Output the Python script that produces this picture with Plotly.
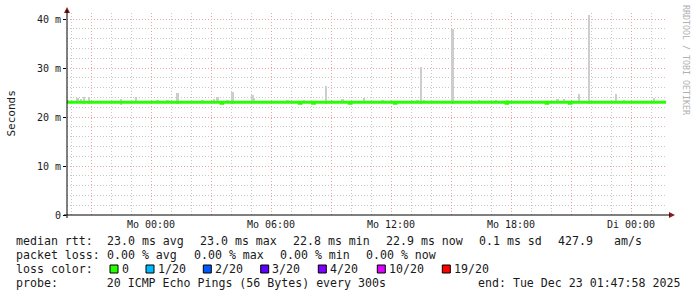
import plotly.graph_objects as go

# ---------------- data ----------------
t_start = "2025-12-21 19:47:58"
t_end = "2025-12-23 01:47:58"

# smoke (ping spread) per 5-minute step where visible, in ms
smoke_time = [
    "2025-12-21 19:50", "2025-12-21 20:20", "2025-12-21 20:30", "2025-12-21 20:40",
    "2025-12-21 20:55", "2025-12-21 22:30", "2025-12-21 23:15", "2025-12-22 00:20",
    "2025-12-22 00:50", "2025-12-22 01:20", "2025-12-22 02:35", "2025-12-22 03:10",
    "2025-12-22 03:20", "2025-12-22 03:50", "2025-12-22 04:05", "2025-12-22 05:05",
    "2025-12-22 05:10", "2025-12-22 06:50", "2025-12-22 07:40", "2025-12-22 08:45",
    "2025-12-22 09:15", "2025-12-22 09:35", "2025-12-22 10:40", "2025-12-22 11:35",
    "2025-12-22 12:00", "2025-12-22 13:20", "2025-12-22 13:30", "2025-12-22 13:40",
    "2025-12-22 15:05", "2025-12-22 16:25", "2025-12-22 17:15", "2025-12-22 17:50",
    "2025-12-22 20:20", "2025-12-22 20:40", "2025-12-22 21:25", "2025-12-22 21:55",
    "2025-12-22 23:15", "2025-12-22 23:40", "2025-12-23 01:10",
]
smoke_high = [
    23.4, 23.8, 23.6, 24.1,
    24.1, 23.6, 24.1, 23.4,
    23.4, 24.8, 23.4, 23.6,
    24.0, 23.4, 25.2, 24.4,
    23.9, 23.4, 23.4, 26.4,
    23.3, 23.6, 23.8, 23.4,
    23.4, 23.4, 30.3, 23.4,
    37.9, 23.4, 23.4, 23.4,
    23.6, 23.6, 24.6, 40.9,
    24.7, 23.4, 23.8,
]
smoke_low = [
    22.8, 22.8, 22.8, 22.7,
    22.7, 22.5, 22.8, 22.8,
    22.8, 22.7, 22.8, 22.8,
    22.8, 22.8, 22.7, 22.8,
    22.8, 22.8, 22.8, 22.7,
    22.8, 22.8, 22.8, 22.8,
    22.8, 22.8, 22.7, 22.8,
    22.7, 22.8, 22.8, 22.8,
    22.8, 22.8, 22.8, 22.7,
    22.8, 22.8, 22.8,
]

# median rtt (step line), ms
median_time = [
    "2025-12-21 19:47:58",
    "2025-12-22 03:30", "2025-12-22 03:35",
    "2025-12-22 07:25", "2025-12-22 07:30",
    "2025-12-22 08:05", "2025-12-22 08:10",
    "2025-12-22 09:55", "2025-12-22 10:00",
    "2025-12-22 12:10", "2025-12-22 12:15",
    "2025-12-22 17:45", "2025-12-22 17:50",
    "2025-12-22 19:45", "2025-12-22 19:50",
    "2025-12-22 20:55", "2025-12-22 21:00",
    "2025-12-23 01:45",
]
median_value = [
    23.0,
    22.8, 23.0,
    22.8, 23.0,
    22.8, 23.0,
    22.8, 23.0,
    22.8, 23.0,
    22.8, 23.0,
    22.8, 23.0,
    22.8, 23.0,
    23.0,
]

# axes
y_tickvals = [0, 10, 20, 30, 40]
y_ticktext = ["0", "10 m", "20 m", "30 m", "40 m"]
x_tickvals = [
    "2025-12-21 21:00", "2025-12-22 00:00", "2025-12-22 03:00", "2025-12-22 06:00",
    "2025-12-22 09:00", "2025-12-22 12:00", "2025-12-22 15:00", "2025-12-22 18:00",
    "2025-12-22 21:00", "2025-12-23 00:00",
]
x_ticktext = ["", "Mo 00:00", "", "Mo 06:00", "", "Mo 12:00", "", "Mo 18:00", "", "Di 00:00"]

# legend texts
rtt_items = ["median rtt:", "23.0 ms avg", "23.0 ms max", "22.8 ms min",
             "22.9 ms now", "0.1 ms sd", "427.9", "am/s"]
loss_items = ["packet loss:", "0.00 % avg", "0.00 % max", "0.00 % min", "0.00 % now"]
loss_labels = ["0", "1/20", "2/20", "3/20", "4/20", "10/20", "19/20"]
loss_colors = ["#26ff00", "#00b8ff", "#0059ff", "#5e00ff", "#7e00ff", "#dd00ff", "#ff0000"]
probe_text = "probe:       20 ICMP Echo Pings (56 Bytes) every 300s"
end_text = "end: Tue Dec 23 01:47:58 2025"

# ---------------- layout geometry (pixels) ----------------
FIG_W, FIG_H = 697, 297
L, R, T, B = 67, 30, 13, 82
PW = FIG_W - L - R
PH = FIG_H - T - B
Y_TOP = 40 * PH / 196.0


def px(x):
    return (x - L) / PW


def py(y):
    return (FIG_H - B - y) / PH


rtt_x = [16, 107.3, 200.3, 293.3, 386, 479.3, 558.3, 614]
loss_x = [16, 107.3, 193.6, 279.9, 366.2]
sq_x = [110, 146, 203.3, 260.7, 318.3, 377.3, 442.3]
lab_x = [121.7, 157.7, 215, 272.3, 330, 389.3, 454.3]
line_y = [241, 255, 269, 282.5]

MONO = "DejaVu Sans Mono"
TXT = "#1a1a1a"

fig = go.Figure()

fig.add_trace(go.Bar(
    x=smoke_time,
    y=[h - l for h, l in zip(smoke_high, smoke_low)],
    base=smoke_low,
    width=300000,
    marker=dict(color="#cdcdcd", line=dict(width=0)),
    hoverinfo="skip",
    showlegend=False,
))

fig.add_trace(go.Scatter(
    x=median_time, y=median_value,
    mode="lines", line=dict(color="#26ff00", width=3, shape="hv"),
    showlegend=False, hoverinfo="skip",
))

annotations = []


def txt(x, y, s, size=11.6, color=TXT, anchor="left"):
    annotations.append(dict(
        x=px(x), y=py(y), xref="paper", yref="paper", text=s,
        showarrow=False, xanchor=anchor, yanchor="middle",
        font=dict(family=MONO, size=size, color=color),
        borderpad=0, borderwidth=0,
    ))


for s, x in zip(rtt_items, rtt_x):
    txt(x, line_y[0], s)
for s, x in zip(loss_items, loss_x):
    txt(x, line_y[1], s)
txt(16, line_y[2], "loss color:")
for s, x in zip(loss_labels, lab_x):
    txt(x, line_y[2], s)
txt(16, line_y[3], probe_text.replace(" ", "&nbsp;"))
txt(478.3, line_y[3], end_text)

# y axis title and watermark
annotations.append(dict(
    x=px(10.5), y=py(114), xref="paper", yref="paper", text="Seconds",
    showarrow=False, textangle=-90, xanchor="center", yanchor="middle",
    font=dict(family=MONO, size=11, color=TXT),
))
annotations.append(dict(
    x=px(686), y=py(60), xref="paper", yref="paper", text="RRDTOOL / TOBI OETIKER",
    showarrow=False, textangle=90, xanchor="center", yanchor="middle",
    font=dict(family=MONO, size=8.3, color="#b0b0b0"),
))

shapes = []
for x0, c in zip(sq_x, loss_colors):
    shapes.append(dict(
        type="rect", xref="paper", yref="paper",
        x0=px(x0), x1=px(x0 + 8), y0=py(line_y[2] - 4), y1=py(line_y[2] + 4),
        fillcolor=c, line=dict(color="#000000", width=1),
    ))
# axis arrows
shapes.append(dict(
    type="path", xref="paper", yref="paper",
    path=f"M {px(64)} {py(13)} L {px(70)} {py(13)} L {px(67)} {py(7)} Z",
    fillcolor="#8b1a1a", line=dict(color="#8b1a1a", width=0),
))
shapes.append(dict(
    type="path", xref="paper", yref="paper",
    path=f"M {px(669)} {py(212)} L {px(669)} {py(218)} L {px(675)} {py(215)} Z",
    fillcolor="#8b1a1a", line=dict(color="#8b1a1a", width=0),
))
# axis line extensions past the plot area
shapes.append(dict(type="line", xref="paper", yref="paper",
                   x0=px(67), x1=px(67), y0=py(218), y1=py(10),
                   line=dict(color="#000000", width=1)))
shapes.append(dict(type="line", xref="paper", yref="paper",
                   x0=px(64), x1=px(670), y0=py(215), y1=py(215),
                   line=dict(color="#000000", width=1)))

fig.update_layout(
    width=FIG_W, height=FIG_H,
    margin=dict(l=L, r=R, t=T, b=B),
    paper_bgcolor="#ffffff", plot_bgcolor="#ffffff",
    showlegend=False,
    bargap=0,
    annotations=annotations,
    shapes=shapes,
    xaxis=dict(
        type="date", range=[t_start, t_end],
        tickmode="array", tickvals=x_tickvals, ticktext=x_ticktext,
        showgrid=True, gridcolor="#e8a4a4", griddash="1px,2px", gridwidth=1,
        ticks="", showline=False, zeroline=False, ticklabelstandoff=2,
        tickfont=dict(family=MONO, size=10, color=TXT),
        minor=dict(tickmode="linear", tick0="2025-12-21 00:00", dtick=3600000,
                   showgrid=True, gridcolor="#c8c8c8", griddash="1px,2px", gridwidth=1,
                   ticks=""),
        fixedrange=True,
    ),
    yaxis=dict(
        range=[0, Y_TOP],
        tickmode="array", tickvals=y_tickvals, ticktext=y_ticktext,
        showgrid=True, gridcolor="#e8a4a4", griddash="1px,2px", gridwidth=1,
        ticks="outside", ticklen=3, tickcolor="#000000",
        showline=False, zeroline=False,
        tickfont=dict(family=MONO, size=10, color=TXT),
        minor=dict(tickmode="linear", tick0=0, dtick=2,
                   showgrid=True, gridcolor="#c8c8c8", griddash="1px,2px", gridwidth=1,
                   ticks=""),
        fixedrange=True,
    ),
)

fig.write_html("out.html")
